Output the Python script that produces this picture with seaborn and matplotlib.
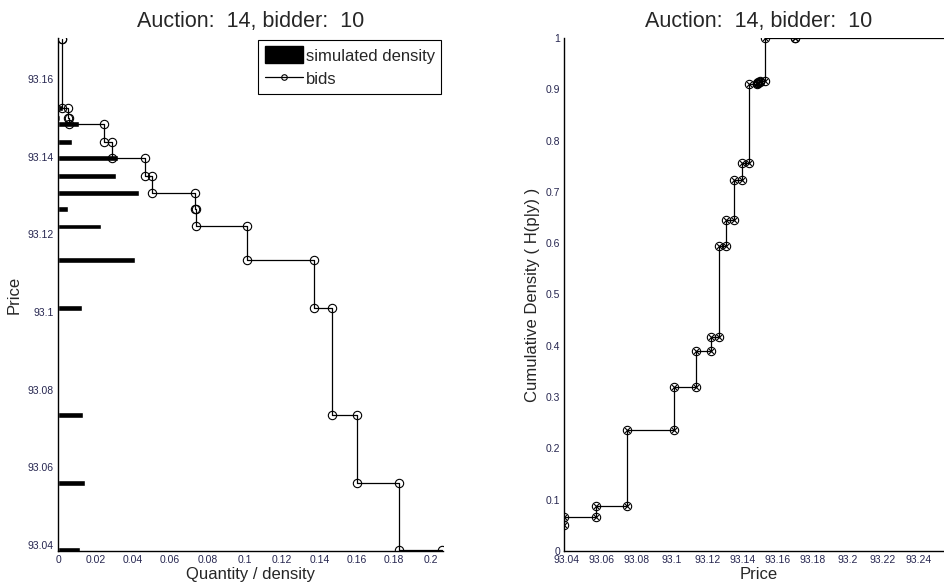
import numpy as np
import pandas as pd
import matplotlib
matplotlib.use("Agg")
import matplotlib.pyplot as plt
from matplotlib.patches import Patch
from matplotlib.lines import Line2D
from matplotlib.ticker import FuncFormatter
import seaborn as sns

# bid staircase (left): price levels, descending, and cumulative quantity edges
bid_prices = [93.1703, 93.1524, 93.1500, 93.1484, 93.1437, 93.1396, 93.1349,
              93.1307, 93.1264, 93.1220, 93.1133, 93.1010, 93.0736, 93.0561, 93.0387]
bid_qty = [0.0020, 0.0020, 0.0052, 0.0059, 0.0245, 0.0289, 0.0467, 0.0506,
           0.0736, 0.0740, 0.1011, 0.1374, 0.1469, 0.1602, 0.1829, 0.2060]

# simulated density bars (left)
dens_prices = [93.1524, 93.1500, 93.1484, 93.1437, 93.1396, 93.1349, 93.1307,
               93.1264, 93.1220, 93.1133, 93.1010, 93.0736, 93.0561, 93.0387]
dens_values = [0.0025, 0.0010, 0.0112, 0.0075, 0.0322, 0.0312, 0.0435,
               0.0055, 0.0230, 0.0413, 0.0127, 0.0135, 0.0144, 0.0117]

# cumulative density staircase (right): prices ascending, level edges
cdf_prices = [93.0388, 93.0568, 93.0742, 93.1011, 93.1134, 93.1220, 93.1268, 93.1309,
              93.1351, 93.1400, 93.1440, 93.1481, 93.1490, 93.1500, 93.1530, 93.1700]
cdf_levels = [0.050, 0.0664, 0.0878, 0.2356, 0.3195, 0.390, 0.4165, 0.5947, 0.6448,
              0.7228, 0.7573, 0.9108, 0.9125, 0.9140, 0.9166, 1.0, 1.0]

TITLE = "Auction:  14, bidder:  10"
TICK_COLOR = "#262650"


def stair_points(levels, edges):
    # two corners per level: (edge_k, level_k) and (edge_k+1, level_k)
    a, b = [], []
    for k, lv in enumerate(levels):
        a += [edges[k], edges[k + 1]]
        b += [lv, lv]
    return a, b


def fmt(v, pos):
    return f"{round(v, 4):g}"


def style_axes(ax):
    sns.despine(ax=ax)
    for s in ("left", "bottom"):
        ax.spines[s].set_color("black")
        ax.spines[s].set_linewidth(1.0)
        ax.spines[s].set_zorder(5)
    ax.tick_params(direction="in", length=4, width=0.9, color="black",
                   labelcolor=TICK_COLOR, labelsize=7.5, pad=3)
    ax.xaxis.set_major_formatter(FuncFormatter(fmt))
    ax.yaxis.set_major_formatter(FuncFormatter(fmt))


sns.set_style("white")
plt.rcParams["font.family"] = ["Liberation Sans", "DejaVu Sans"]

fig = plt.figure(figsize=(9.44, 5.87), dpi=100)
ax1 = fig.add_axes([58 / 944, 36 / 587, 385 / 944, 513 / 587])
ax2 = fig.add_axes([564.3 / 944, 36 / 587, 389.2 / 944, 513 / 587])

# ---- left panel
ax1.barh(dens_prices, dens_values, height=0.0015, color="black", zorder=2)
q, p = stair_points(bid_prices, bid_qty)
bids = pd.DataFrame({"qty": q, "price": p})
sns.lineplot(data=bids, x="qty", y="price", sort=False, estimator=None, ax=ax1,
             color="black", lw=0.9, marker="o", markersize=6, mfc="none",
             mec="black", mew=0.8, zorder=3)
ax1.set_xlim(0, 0.2063)
ax1.set_ylim(93.0385, 93.1705)
ax1.set_xticks(np.arange(0, 0.201, 0.02))
ax1.set_yticks(np.arange(93.04, 93.161, 0.02))
style_axes(ax1)
ax1.set_xlabel("Quantity / density", fontsize=12, labelpad=1)
ax1.set_ylabel("Price", fontsize=12, labelpad=4)
ax1.set_title(TITLE, fontsize=15.5, pad=8)

leg_handles = [Patch(facecolor="black", edgecolor="black"),
               Line2D([], [], color="black", lw=0.9, marker="o", markersize=4,
                      mfc="none", mew=0.8)]
leg = ax1.legend(leg_handles, ["simulated density", "bids"], loc="upper right",
                 fontsize=12, frameon=True, fancybox=False, edgecolor="black",
                 framealpha=1, borderaxespad=0.1, handlelength=2.3, handleheight=1.2,
                 handletextpad=0.15, labelspacing=0.4, borderpad=0.4)
leg.get_frame().set_linewidth(0.8)

# ---- right panel
c, pr = stair_points(cdf_prices, cdf_levels)
cdf_df = pd.DataFrame({"price": pr, "cdf": c})
sns.lineplot(data=cdf_df, x="price", y="cdf", sort=False, estimator=None, ax=ax2,
             color="black", lw=0.9, marker="o", markersize=6, mfc="none",
             mec="black", mew=0.8, zorder=3)
sns.scatterplot(data=cdf_df, x="price", y="cdf", ax=ax2, marker="x", s=12,
                color="black", linewidth=0.8, zorder=4)
ax2.set_xlim(93.0388, 93.26)
ax2.set_ylim(0, 1)
ax2.hlines(cdf_levels[-1], cdf_prices[-1], ax2.get_xlim()[1], color="black", lw=0.9)
ax2.set_xticks(np.arange(93.04, 93.2401, 0.02))
ax2.set_yticks(np.arange(0, 1.001, 0.1))
style_axes(ax2)
ax2.set_xlabel("Price", fontsize=12, labelpad=1)
ax2.set_ylabel("Cumulative Density ( H(p|y) )", fontsize=12, labelpad=4)
ax2.set_title(TITLE, fontsize=15.5, pad=8)

fig.savefig("out.png", dpi=100)
